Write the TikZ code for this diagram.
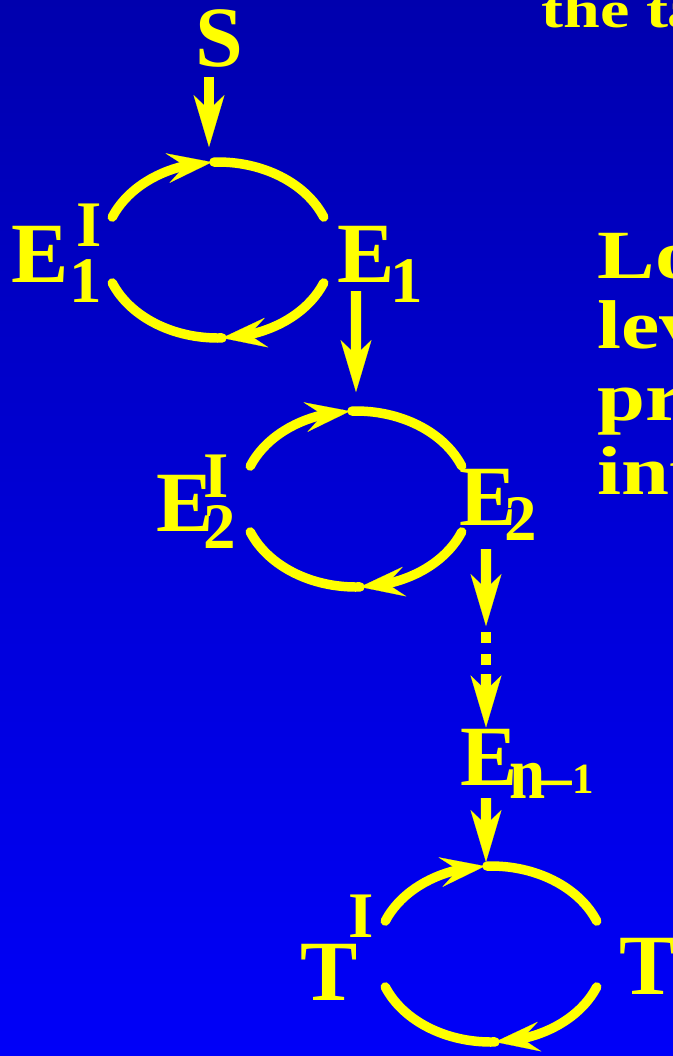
\documentclass[tikz,border=0pt]{standalone}
\usepackage{fontspec}
\setmainfont{Liberation Serif}
\usetikzlibrary{arrows.meta,bending}
\definecolor{bgtop}{RGB}{0,0,134}
\definecolor{bgmid}{RGB}{0,0,214}
\definecolor{bgbot}{RGB}{0,0,255}
\definecolor{lblyellow}{RGB}{255,255,0}
\pgfdeclareverticalshading{slidebg}{100bp}{color(0bp)=(bgbot); color(20bp)=(bgbot); color(50bp)=(bgmid); color(100bp)=(bgtop)}
\newcommand\scfont{\fontsize{37pt}{37pt}\selectfont}
\tikzset{
	lbl/.style={text=lblyellow, font=\bfseries\fontsize{48.9pt}{48.9pt}\selectfont, inner sep=0pt, anchor=base west},
	sidetext/.style={text=lblyellow, font=\bfseries\fontsize{39.3pt}{39.3pt}\selectfont, inner sep=0pt, anchor=base west, xscale=1.25},
	flow/.style={draw=lblyellow, line width=5.7pt, -{Stealth[length=29.6pt, width=17.6pt, inset=8.5pt, line width=0.1pt]}},
	dots/.style={draw=lblyellow, line width=5.7pt, dash pattern=on 6.26pt off 6.26pt},
	ring/.style={draw=lblyellow, line width=5.4pt, line cap=round},
	ringarrow/.style={ring, -{Stealth[length=25.6pt, width=17pt, inset=10pt, line width=0.1pt, flex]}}
}
\begin{document}
\begin{tikzpicture}[x=0.02cm, y=0.02cm]
		\useasboundingbox (0, 0) rectangle (673, -1056);
		\clip (0, 0) rectangle (673, -1056);
		\shade[shading=slidebg] (0, 0) rectangle (673, -1056);
		\node[sidetext, font=\bfseries\fontsize{29.6pt}{29.6pt}\selectfont, xscale=1.016] (head) at (541, -27) {the ta};
		\node[sidetext] (lo) at (597, -278) {Lo};
		\node[sidetext] (lev) at (597, -348) {lev};
		\node[sidetext] (pre) at (597, -420) {pre};
		\node[sidetext] (int) at (597, -494) {int};
		\coordinate (c1) at (218, -250);
		\coordinate (c2) at (356, -499);
		\coordinate (c3) at (491, -954);
		\foreach \c in {c1, c2, c3}{
			\draw[ringarrow] ([shift={(158:114 and 88)}]\c) arc[start angle=158, end angle=93, x radius=114, y radius=88];
			\draw[ring] ([shift={(92:114 and 88)}]\c) arc[start angle=92, end angle=22, x radius=114, y radius=88];
			\draw[ringarrow] ([shift={(-22:114 and 88)}]\c) arc[start angle=-22, end angle=-88, x radius=114, y radius=88];
			\draw[ring] ([shift={(-88:114 and 88)}]\c) arc[start angle=-88, end angle=-158, x radius=114, y radius=88];
		}
		\node[lbl] (S) at (195, -66) {S};
		\node[lbl] (e1i) at (11.6, -282) {E\rlap{\kern4pt\raisebox{20pt}{\scfont I}}\raisebox{-11.4pt}{\scfont 1}};
		\node[lbl] (e1) at (337.6, -282) {E\kern-2.8pt\raisebox{-11.4pt}{\scfont 1}};
		\node[lbl] (e2i) at (156.6, -531) {E\kern-6pt\rlap{\raisebox{19.3pt}{\scfont I}}\raisebox{-10.2pt}{\scfont 2}};
		\node[lbl] (e2) at (459.6, -525) {E\kern-7.2pt\raisebox{-9.1pt}{\scfont 2}};
		\node[lbl] (en) at (460.6, -785) {E\kern-4.9pt\raisebox{-7.4pt}{\scfont\scalebox{1}[1.15]{n}\kern-3.4pt–\raisebox{2.3pt}{\fontsize{24.5pt}{24.5pt}\selectfont 1}}};
		\node[lbl] (ti) at (300, -1000) {T\kern-5.1pt\raisebox{35.3pt}{\scfont I}};
		\node[lbl] (t) at (619, -994) {T};
		\coordinate (t1) at (209, -147);
		\coordinate (t2) at (356, -392);
		\coordinate (d0) at (486, -626);
		\coordinate (d1) at (486, -632);
		\coordinate (d2) at (486, -665);
		\coordinate (d3) at (486, -674);
		\coordinate (t3) at (486, -862);
		\draw[flow] ([shift={(14, -11)}]S.base west) -- (t1);
		\draw[flow] ([shift={(18.4, -9)}]e1.base west) -- (t2);
		\draw[flow] ([shift={(26.4, -24)}]e2.base west) -- (d0);
		\draw[dots] (d1) -- (d2);
		\draw[flow] (d3) -- ([shift={(25.4, 1)}]en.north west);
		\draw[flow] ([shift={(25.4, -13)}]en.base west) -- (t3);
	\end{tikzpicture}
\end{document}
